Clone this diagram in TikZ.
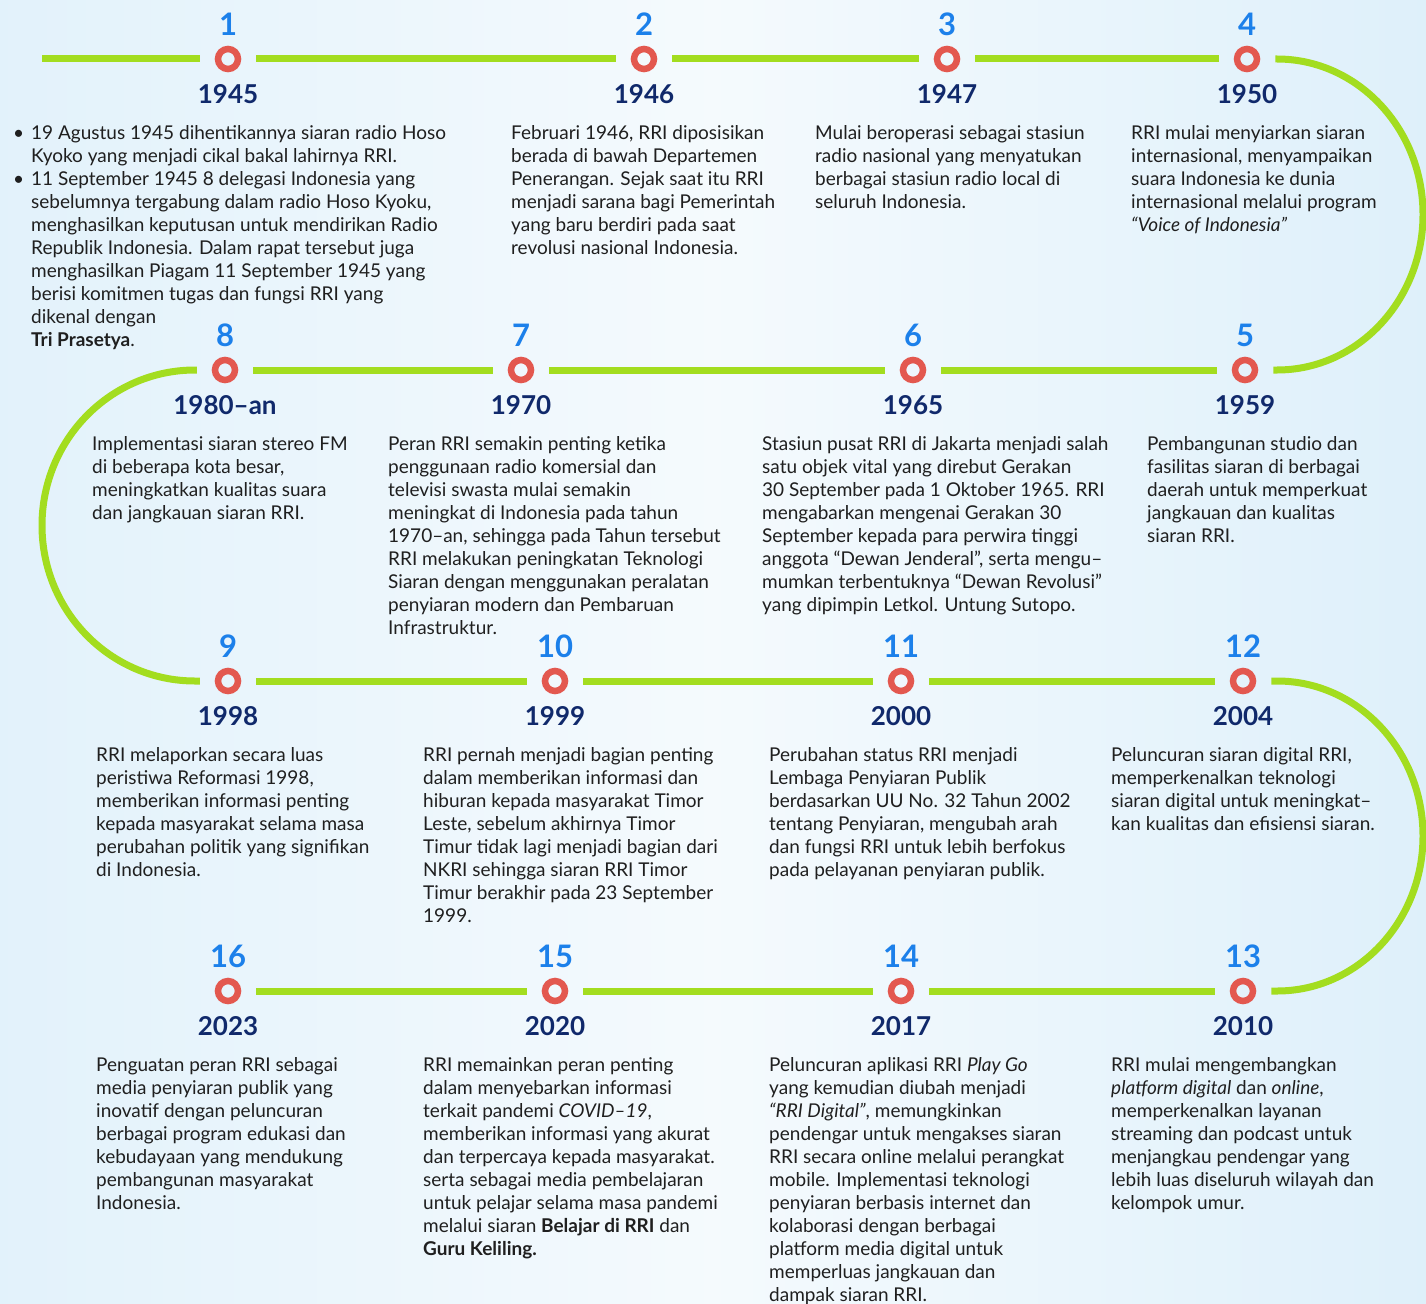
\documentclass[tikz,border=0pt]{standalone}
\usepackage{fontspec}
\setmainfont{Lato}
\usetikzlibrary{positioning}
\definecolor{lime}{HTML}{A3DD1F}
\definecolor{ring}{HTML}{E3584F}
\definecolor{numblue}{HTML}{1C80EA}
\definecolor{navy}{HTML}{10296B}
\definecolor{ink}{HTML}{1F1F1F}
\definecolor{sky}{HTML}{D6ECF9}
\tikzset{
	dot/.style={circle, draw=ring, line width=6.5pt, minimum size=20pt, inner sep=0pt},
	track/.style={draw=lime, line width=7pt, shorten <=15pt, shorten >=15pt},
	num/.style={inner sep=0pt, text=numblue, font=\fontsize{31}{31}\selectfont\bfseries},
	yr/.style={inner sep=0pt, text=navy, font=\fontsize{26}{26}\selectfont\bfseries},
	desc/.style={anchor=north west, align=left, inner sep=0pt, text=ink, font=\fontsize{19}{23}\selectfont},
}
\begin{document}
\begin{tikzpicture}[x=1pt,y=-1pt]
	% background
	\useasboundingbox (0,0) rectangle (1426,1303);
	\shade[left color=sky!70!white, right color=sky!80!white, middle color=sky!25!white] (0,0) rectangle (1426,1303);

	% the circles, row by row
	\node[dot] (c1) at (228,59) {};
	\node[dot] (c2) at (644,59) {};
	\node[dot] (c3) at (947,59) {};
	\node[dot] (c4) at (1247,59) {};
	\node[dot] (c5) at (1245,370) {};
	\node[dot] (c6) at (913,370) {};
	\node[dot] (c7) at (521,370) {};
	\node[dot] (c8) at (225,370) {};
	\node[dot] (c9) at (228,681) {};
	\node[dot] (c10) at (555,681) {};
	\node[dot] (c11) at (901,681) {};
	\node[dot] (c12) at (1243,681) {};
	\node[dot] (c13) at (1243,991) {};
	\node[dot] (c14) at (901,991) {};
	\node[dot] (c15) at (555,991) {};
	\node[dot] (c16) at (228,991) {};

	% ends of the bends
	\coordinate (start) at (42,59);
	\coordinate (bendA) at (1277,59);
	\coordinate (bendB) at (195,370);
	\coordinate (bendC) at (1277,681);

	% the green track
	\draw[track, shorten <=0pt] (start) -- (c1);
	\draw[track] (c1) -- (c2);
	\draw[track] (c2) -- (c3);
	\draw[track] (c3) -- (c4);
	\draw[track] (c4) -- (bendA) arc[start angle=-90, end angle=90, x radius=146, y radius=155.5] -- (c5);
	\draw[track] (c5) -- (c6);
	\draw[track] (c6) -- (c7);
	\draw[track] (c7) -- (c8);
	\draw[track] (c8) -- (bendB) arc[start angle=270, end angle=90, x radius=153, y radius=155.5] -- (c9);
	\draw[track] (c9) -- (c10);
	\draw[track] (c10) -- (c11);
	\draw[track] (c11) -- (c12);
	\draw[track] (c12) -- (bendC) arc[start angle=-90, end angle=90, x radius=146, y radius=155] -- (c13);
	\draw[track] (c13) -- (c14);
	\draw[track] (c14) -- (c15);
	\draw[track] (c15) -- (c16);

	% numbers and years
	\node[num, above=10pt of c1] (n1) {1};
	\node[num, above=10pt of c2] (n2) {2};
	\node[num, above=10pt of c3] (n3) {3};
	\node[num, above=10pt of c4] (n4) {4};
	\node[num, above=10pt of c5] (n5) {5};
	\node[num, above=10pt of c6] (n6) {6};
	\node[num, above=10pt of c7] (n7) {7};
	\node[num, above=10pt of c8] (n8) {8};
	\node[num, above=10pt of c9] (n9) {9};
	\node[num, above=10pt of c10] (n10) {10};
	\node[num, above=10pt of c11] (n11) {11};
	\node[num, above=10pt of c12] (n12) {12};
	\node[num, above=10pt of c13] (n13) {13};
	\node[num, above=10pt of c14] (n14) {14};
	\node[num, above=10pt of c15] (n15) {15};
	\node[num, above=10pt of c16] (n16) {16};

	\node[yr, below=12pt of c1] (y1) {1945};
	\node[yr, below=12pt of c2] (y2) {1946};
	\node[yr, below=12pt of c3] (y3) {1947};
	\node[yr, below=12pt of c4] (y4) {1950};
	\node[yr, below=12pt of c5] (y5) {1959};
	\node[yr, below=12pt of c6] (y6) {1965};
	\node[yr, below=12pt of c7] (y7) {1970};
	\node[yr, below=12pt of c8] (y8) {1980–an};
	\node[yr, below=12pt of c9] (y9) {1998};
	\node[yr, below=12pt of c10] (y10) {1999};
	\node[yr, below=12pt of c11] (y11) {2000};
	\node[yr, below=12pt of c12] (y12) {2004};
	\node[yr, below=12pt of c13] (y13) {2010};
	\node[yr, below=12pt of c14] (y14) {2017};
	\node[yr, below=12pt of c15] (y15) {2020};
	\node[yr, below=12pt of c16] (y16) {2023};

	% row 1
	\node[desc] (t1) at (31,125) {\llap{\textbullet\hspace{7pt}}19 Agustus 1945 dihentikannya siaran radio Hoso\\
		Kyoko yang menjadi cikal bakal lahirnya RRI.\\
		\llap{\textbullet\hspace{7pt}}11 September 1945 8 delegasi Indonesia yang\\
		sebelumnya tergabung dalam radio Hoso Kyoku,\\
		menghasilkan keputusan untuk mendirikan Radio\\
		Republik Indonesia. Dalam rapat tersebut juga\\
		menghasilkan Piagam 11 September 1945 yang\\
		berisi komitmen tugas dan fungsi RRI yang\\
		dikenal dengan\\
		\textbf{Tri Prasetya}.};
	\node[desc] (t2) at (511,125) {Februari 1946, RRI diposisikan\\
		berada di bawah Departemen\\
		Penerangan. Sejak saat itu RRI\\
		menjadi sarana bagi Pemerintah\\
		yang baru berdiri pada saat\\
		revolusi nasional Indonesia.};
	\node[desc] (t3) at (815,125) {Mulai beroperasi sebagai stasiun\\
		radio nasional yang menyatukan\\
		berbagai stasiun radio local di\\
		seluruh Indonesia.};
	\node[desc] (t4) at (1131,125) {RRI mulai menyiarkan siaran\\
		internasional, menyampaikan\\
		suara Indonesia ke dunia\\
		internasional melalui program\\
		\textit{“Voice of Indonesia”}};

	% row 2
	\node[desc] (t8) at (92,436) {Implementasi siaran stereo FM\\
		di beberapa kota besar,\\
		meningkatkan kualitas suara\\
		dan jangkauan siaran RRI.};
	\node[desc] (t7) at (388,436) {Peran RRI semakin penting ketika\\
		penggunaan radio komersial dan\\
		televisi swasta mulai semakin\\
		meningkat di Indonesia pada tahun\\
		1970–an, sehingga pada Tahun tersebut\\
		RRI melakukan peningkatan Teknologi\\
		Siaran dengan menggunakan peralatan\\
		penyiaran modern dan Pembaruan\\
		Infrastruktur.};
	\node[desc] (t6) at (762,436) {Stasiun pusat RRI di Jakarta menjadi salah\\
		satu objek vital yang direbut Gerakan\\
		30 September pada 1 Oktober 1965. RRI\\
		mengabarkan mengenai Gerakan 30\\
		September kepada para perwira tinggi\\
		anggota “Dewan Jenderal”, serta mengu–\\
		mumkan terbentuknya “Dewan Revolusi”\\
		yang dipimpin Letkol. Untung Sutopo.};
	\node[desc] (t5) at (1147,436) {Pembangunan studio dan\\
		fasilitas siaran di berbagai\\
		daerah untuk memperkuat\\
		jangkauan dan kualitas\\
		siaran RRI.};

	% row 3
	\node[desc] (t9) at (96,747) {RRI melaporkan secara luas\\
		peristiwa Reformasi 1998,\\
		memberikan informasi penting\\
		kepada masyarakat selama masa\\
		perubahan politik yang signifikan\\
		di Indonesia.};
	\node[desc] (t10) at (423,747) {RRI pernah menjadi bagian penting\\
		dalam memberikan informasi dan\\
		hiburan kepada masyarakat Timor\\
		Leste, sebelum akhirnya Timor\\
		Timur tidak lagi menjadi bagian dari\\
		NKRI sehingga siaran RRI Timor\\
		Timur berakhir pada 23 September\\
		1999.};
	\node[desc] (t11) at (769,747) {Perubahan status RRI menjadi\\
		Lembaga Penyiaran Publik\\
		berdasarkan UU No. 32 Tahun 2002\\
		tentang Penyiaran, mengubah arah\\
		dan fungsi RRI untuk lebih berfokus\\
		pada pelayanan penyiaran publik.};
	\node[desc] (t12) at (1111,747) {Peluncuran siaran digital RRI,\\
		memperkenalkan teknologi\\
		siaran digital untuk meningkat–\\
		kan kualitas dan efisiensi siaran.};

	% row 4
	\node[desc] (t16) at (96,1057) {Penguatan peran RRI sebagai\\
		media penyiaran publik yang\\
		inovatif dengan peluncuran\\
		berbagai program edukasi dan\\
		kebudayaan yang mendukung\\
		pembangunan masyarakat\\
		Indonesia.};
	\node[desc] (t15) at (423,1057) {RRI memainkan peran penting\\
		dalam menyebarkan informasi\\
		terkait pandemi \textit{COVID–19},\\
		memberikan informasi yang akurat\\
		dan terpercaya kepada masyarakat.\\
		serta sebagai media pembelajaran\\
		untuk pelajar selama masa pandemi\\
		melalui siaran \textbf{Belajar di RRI} dan\\
		\textbf{Guru Keliling.}};
	\node[desc] (t14) at (769,1057) {Peluncuran aplikasi RRI \textit{Play Go}\\
		yang kemudian diubah menjadi\\
		\textit{“RRI Digital”}, memungkinkan\\
		pendengar untuk mengakses siaran\\
		RRI secara online melalui perangkat\\
		mobile. Implementasi teknologi\\
		penyiaran berbasis internet dan\\
		kolaborasi dengan berbagai\\
		platform media digital untuk\\
		memperluas jangkauan dan\\
		dampak siaran RRI.};
	\node[desc] (t13) at (1111,1057) {RRI mulai mengembangkan\\
		\textit{platform digital} dan \textit{online},\\
		memperkenalkan layanan\\
		streaming dan podcast untuk\\
		menjangkau pendengar yang\\
		lebih luas diseluruh wilayah dan\\
		kelompok umur.};
\end{tikzpicture}
\end{document}
